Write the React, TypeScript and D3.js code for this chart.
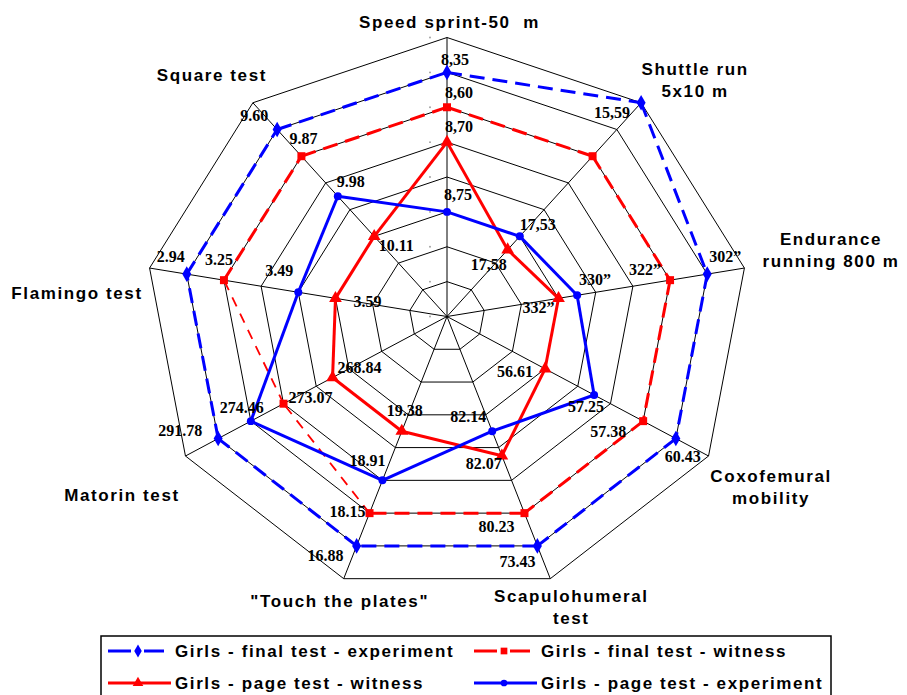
import * as d3 from "d3";

// radar axes (clockwise from the top)
const axisTitles: string[][] = [
  ["Speed sprint-50\u00a0\u00a0m"],
  ["Shuttle run", "5x10 m"],
  ["Endurance", "running 800 m"],
  ["Coxofemural", "mobility"],
  ["Scapulohumeral", "test"],
  ['"Touch the plates"'],
  ["Matorin test"],
  ["Flamingo test"],
  ["Square test"],
];

const seriesNames = [
  "Girls - final test - experiment",
  "Girls - final test - witness",
  "Girls - page test - witness",
  "Girls - page test - experiment",
];

// plotted scores on the 0..8 radial grid
const finalExperiment = [7, 8, 7, 7, 7, 7, 7, 7, 7];
const finalWitness = [6, 6, 6, 6, 6, 6, 5, 6, 6];
const pageWitness = [5, 2.5, 3, 3, 4.25, 3.5, 3.5, 3, 3];
const pageExperiment = [3, 3, 3.5, 4.5, 3.5, 5, 6, 4, 4.5];

// raw test results written next to the points
const finalExperimentLabels = ["8,35", "15,59", "302”", "60.43", "73.43", "16.88", "291.78", "2.94", "9.60"];
const finalWitnessLabels = ["8,60", "", "322”", "57.38", "80.23", "18.15", "273.07", "3.25", "9.87"];
const pageWitnessLabels = ["8,70", "17,58", "332”", "56.61", "82.07", "19.38", "268.84", "3.59", "10.11"];
const pageExperimentLabels = ["8,75", "17,53", "330”", "57.25", "82.14", "18.91", "274.46", "3.49", "9.98"];

const ringLevels = d3.range(1, 9);

const width = 907;
const height = 695;
const cx = 447;
const cy = 316.5;

// label nudges (center x, baseline) relative to each point
const labelNudges: [number, number][][] = [
  [[8, -7], [-29, 15], [18, -12], [7, 23], [-20, 21], [-31, 15], [-38, -3], [-16, -12], [-23, -8]],
  [[12, -9], [0, 0], [-25, -5], [-35, 16], [-28, 19], [-22, 4], [27, -1], [-5, -15], [2, -12]],
  [[12, -10], [-19, 20], [-20, 15], [-30, 8], [-18, 13], [3, -15], [27, -5], [32, 9], [22, 15]],
  [[11, -12], [18, -6], [18, -10], [-8, 17], [-24, -9], [-15, -14], [-9, -8], [-19, -16], [13, -9]],
];

const titleNudges: [number, number][] = [
  [2.5, -9.5], [54, -28], [86.6, -23], [62.5, 26], [21, 23], [-4, 28], [-63.5, 45], [-72.6, 31], [-41, -22],
];

const series = [
  { name: seriesNames[0], values: finalExperiment, labels: finalExperimentLabels, color: "#0000ff", dash: "15 8", symbol: d3.symbolDiamond, size: 70, thin: [] as number[] },
  { name: seriesNames[1], values: finalWitness, labels: finalWitnessLabels, color: "#ff0000", dash: "15 8", symbol: d3.symbolSquare, size: 64, thin: [5, 6] },
  { name: seriesNames[2], values: pageWitness, labels: pageWitnessLabels, color: "#ff0000", dash: null, symbol: d3.symbolTriangle, size: 70, thin: [] as number[] },
  { name: seriesNames[3], values: pageExperiment, labels: pageExperimentLabels, color: "#0000ff", dash: null, symbol: d3.symbolCircle, size: 50, thin: [] as number[] },
];

const n = axisTitles.length;
const angle = d3.scaleLinear().domain([0, n]).range([0, 2 * Math.PI]);
const rx = d3.scaleLinear().domain([0, 8]).range([0, 302]);
const ry = d3.scaleLinear().domain([0, 8]).range([0, 279]);

const pos = (i: number, v: number): [number, number] => [
  cx + rx(v) * Math.sin(angle(i)),
  cy - ry(v) * Math.cos(angle(i)),
];

const closedLine = d3.line<[number, number]>().curve(d3.curveLinearClosed);

export default function App() {
  const sym = d3.symbol();
  const legendCols = [108, 474];
  const legendRows = [651, 683];
  const legendOrder = [0, 1, 2, 3];

  return (
    <svg
      width={width}
      height={height}
      style={{ position: "absolute", left: 0, top: 0, background: "#fff" }}
      fontFamily="'Liberation Sans', Arial, sans-serif"
    >
      {/* grid rings */}
      {ringLevels.map((lvl) => (
        <path
          key={lvl}
          d={closedLine(d3.range(n).map((i) => pos(i, lvl))) ?? ""}
          fill="none"
          stroke="#000"
          strokeWidth={1}
        />
      ))}
      {/* spokes */}
      {d3.range(n).map((i) => {
        const [x, y] = pos(i, 8);
        return <line key={i} x1={cx} y1={cy} x2={x} y2={y} stroke="#000" strokeWidth={1} />;
      })}
      {/* faint radial tick dots */}
      {d3.range(0, 9).map((lvl) => (
        <circle key={lvl} cx={430} cy={cy - ry(lvl)} r={0.9} fill="#999" />
      ))}

      {/* series lines */}
      {series.map((s, si) => {
        const pts = s.values.map((v, i) => pos(i, v));
        return (
          <g key={si}>
            {pts.map((p, i) => {
              const q = pts[(i + 1) % n];
              const thin = s.thin.includes(i);
              return (
                <line
                  key={i}
                  x1={p[0]}
                  y1={p[1]}
                  x2={q[0]}
                  y2={q[1]}
                  stroke={s.color}
                  strokeWidth={thin ? 1.8 : 3}
                  strokeDasharray={s.dash ? (thin ? "10 8" : s.dash) : undefined}
                />
              );
            })}
            {pts.map((p, i) => (
              <path
                key={"m" + i}
                transform={`translate(${p[0]},${p[1]})`}
                d={sym.type(s.symbol).size(s.size)() ?? ""}
                fill={s.color}
              />
            ))}
          </g>
        );
      })}

      {/* value labels */}
      {series.map((s, si) =>
        s.labels.map((lab, i) => {
          if (!lab) return null;
          const [x, y] = pos(i, s.values[i]);
          const [dx, dy] = labelNudges[si][i];
          return (
            <text
              key={si + "-" + i}
              x={x + dx}
              y={y + dy}
              textAnchor="middle"
              fontFamily="'Liberation Serif', 'Times New Roman', serif"
              fontWeight="bold"
              fontSize={16}
              fill="#000"
            >
              {lab}
            </text>
          );
        }),
      )}

      {/* axis titles */}
      {axisTitles.map((lines, i) => {
        const [x, y] = pos(i, 8);
        const [dx, dy] = titleNudges[i];
        return (
          <text
            key={i}
            x={x + dx}
            y={y + dy}
            textAnchor="middle"
            fontWeight="bold"
            fontSize={17}
            letterSpacing={1.6}
            fill="#000"
          >
            {lines.map((l, k) => (
              <tspan key={k} x={x + dx} dy={k === 0 ? 0 : 22}>
                {l}
              </tspan>
            ))}
          </text>
        );
      })}

      {/* legend */}
      <rect x={101} y={636} width={730} height={70} fill="none" stroke="#000" strokeWidth={1.5} />
      {legendOrder.map((si, k) => {
        const s = series[si];
        const col = k % 2;
        const row = Math.floor(k / 2);
        const x0 = legendCols[col];
        const y0 = legendRows[row];
        const len = row === 0 ? 56 : 63;
        return (
          <g key={k}>
            <line
              x1={x0}
              y1={y0}
              x2={x0 + len}
              y2={y0}
              stroke={s.color}
              strokeWidth={3}
              strokeDasharray={s.dash ? "23 13" : undefined}
            />
            <path
              transform={`translate(${x0 + 30},${y0})`}
              d={sym.type(s.symbol).size(s.size * 0.7)() ?? ""}
              fill={s.color}
            />
            <text
              x={col === 0 ? 175 : 541}
              y={y0 + 6}
              fontWeight="bold"
              fontSize={17}
              letterSpacing={1.6}
              fill="#000"
            >
              {s.name}
            </text>
          </g>
        );
      })}
    </svg>
  );
}
